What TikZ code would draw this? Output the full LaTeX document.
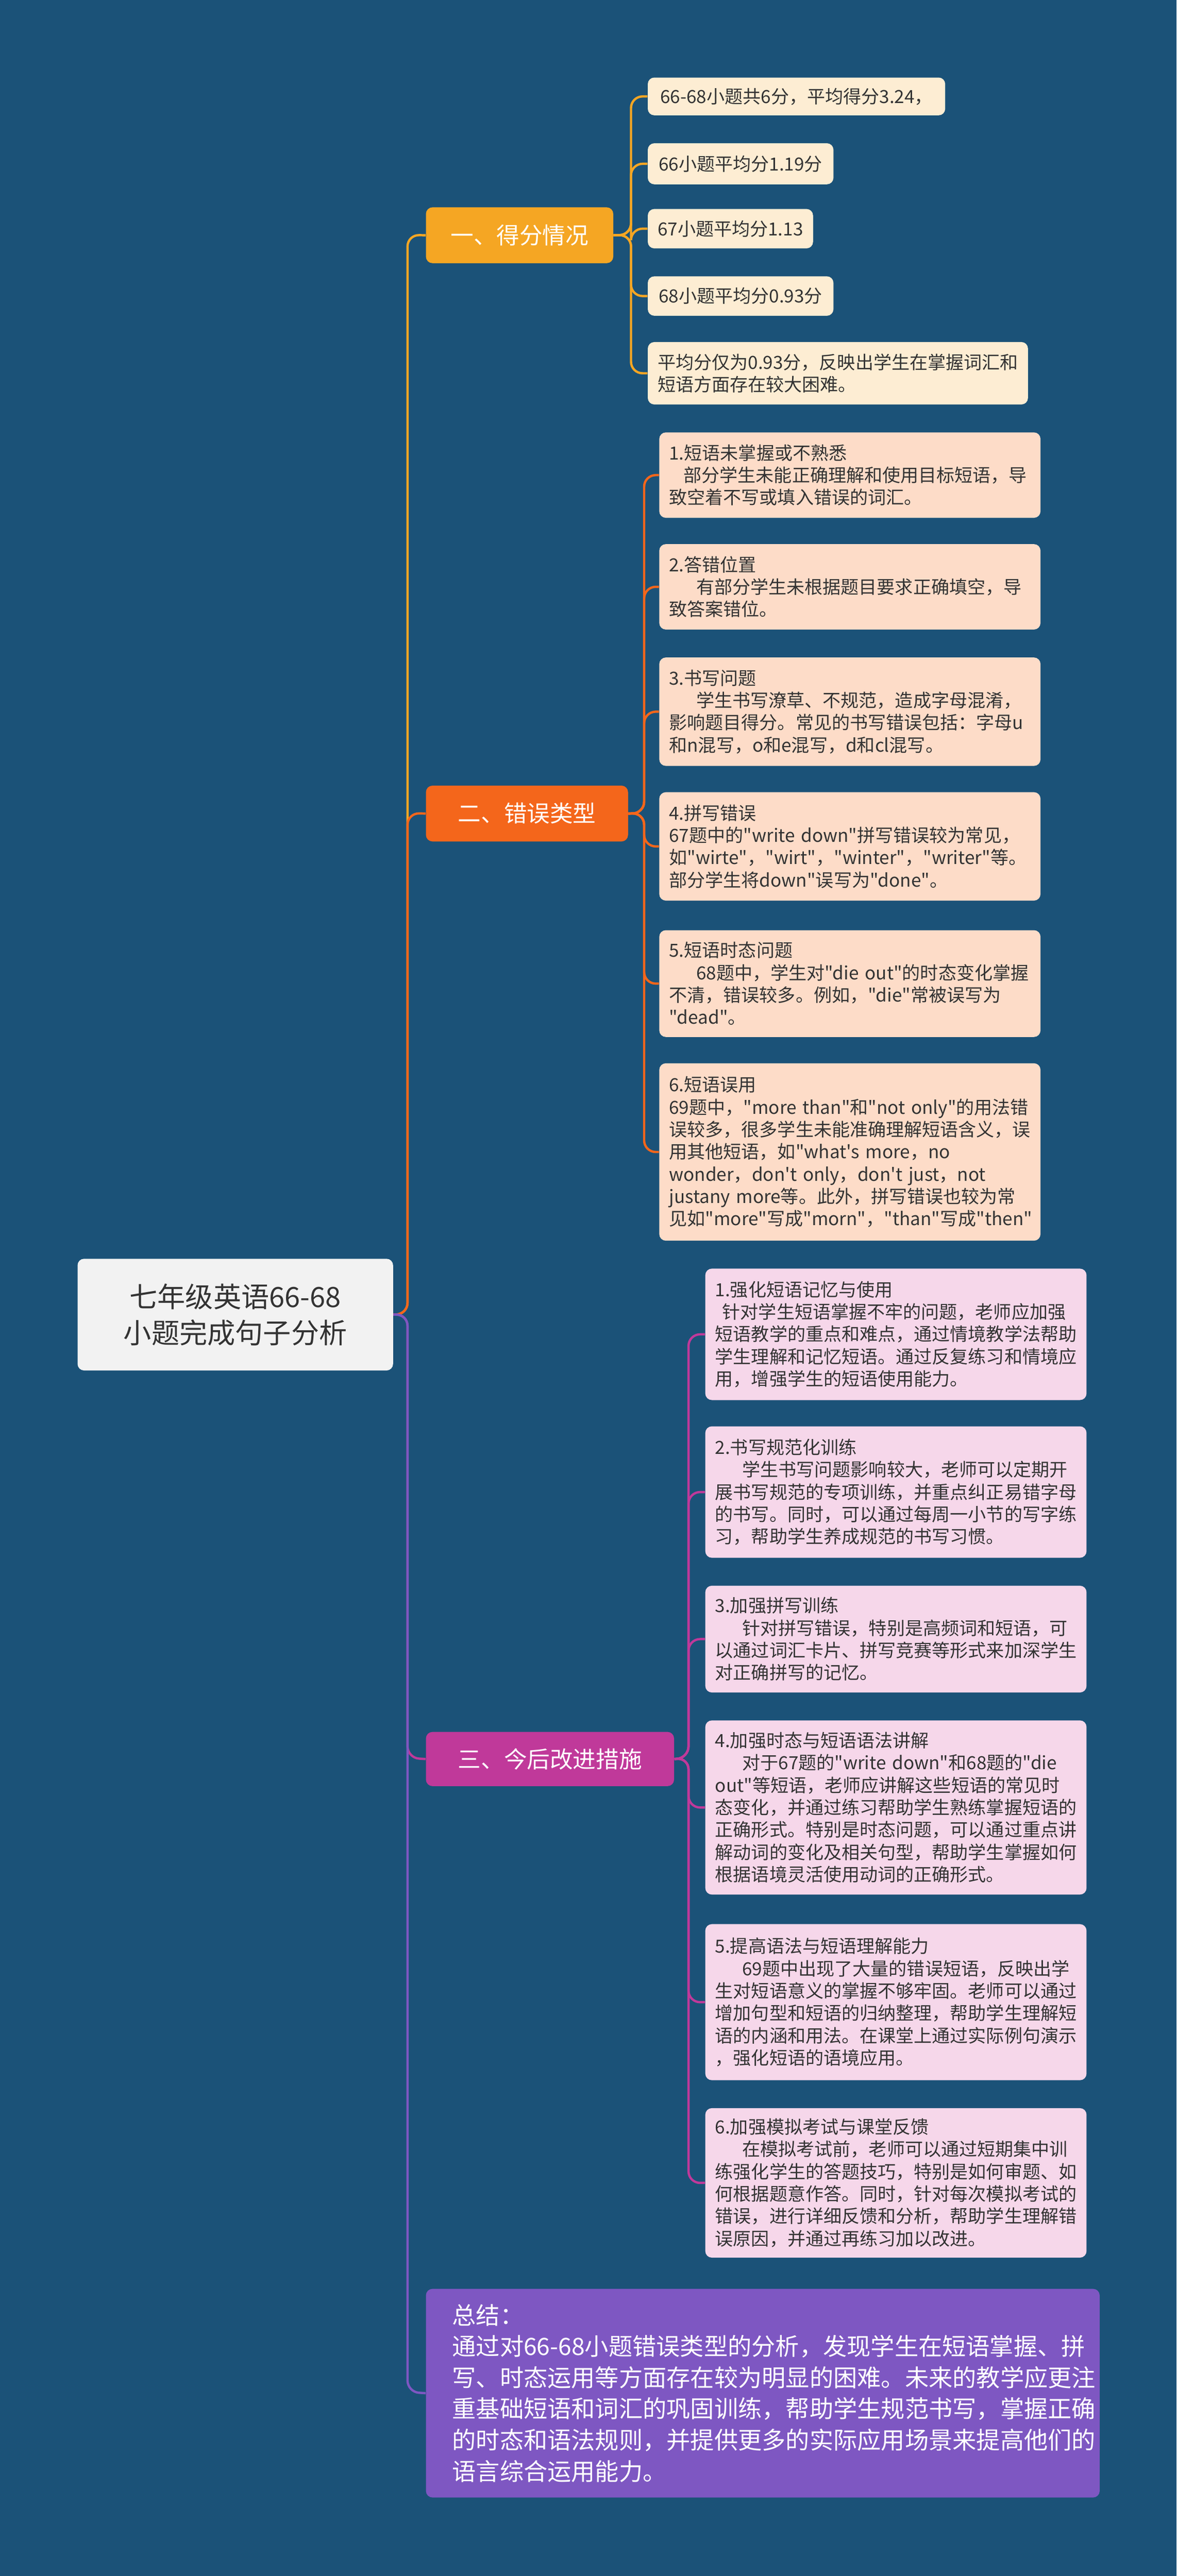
\documentclass[tikz,border=0pt]{standalone}
\usepackage{fontspec}
\newfontfamily\cjk{Noto Sans CJK SC}
\begin{document}
\begin{tikzpicture}[x=1pt,y=-1pt,
  base/.style={anchor=north west,inner xsep=6pt,inner ysep=3pt,align=left,rounded corners=4pt},
  la/.style={base,fill=cA!20,font=\cjk\fontsize{11}{13.5}\selectfont,text=black!80},
  lb/.style={base,fill=peach,font=\cjk\fontsize{11}{13.6}\selectfont,text=black!80,text width=220pt},
  lc/.style={base,fill=pinkl,font=\cjk\fontsize{11}{13.6}\selectfont,text=black!80,text width=220pt},
  br/.style={anchor=north west,rounded corners=4pt,text=white,font=\cjk\fontsize{14}{16}\selectfont,inner sep=0pt},
  ln/.style={line width=1.4pt,rounded corners=7pt}]
\definecolor{bg}{HTML}{1B5278}
\definecolor{cA}{HTML}{F5A623}
\definecolor{cB}{HTML}{F4661B}
\definecolor{cC}{HTML}{C0399A}
\definecolor{cD}{HTML}{7E57C2}
\definecolor{peach}{HTML}{FDDCC8}
\definecolor{pinkl}{HTML}{F6D7EA}
\fill[bg] (0,0) rectangle (716,1568);
\useasboundingbox (0,0) rectangle (716,1568);
% root
\node[anchor=north west,fill=black!5,rounded corners=4pt,minimum width=192pt,minimum height=68pt,align=center,font=\cjk\fontsize{17}{22}\selectfont,text=black!80,inner sep=0pt] (root) at (47,766) {七年级英语66-68\\小题完成句子分析};
% branches
\node[br,fill=cA,minimum width=114pt,minimum height=34pt] (b1) at (259,126) {一、得分情况};
\node[br,fill=cB,minimum width=123pt,minimum height=34pt] (b2) at (259,478) {二、错误类型};
\node[br,fill=cC,minimum width=151pt,minimum height=33pt] (b3) at (259,1054) {三、今后改进措施};
\node[anchor=north west,fill=cD,rounded corners=4pt,minimum width=410pt,minimum height=127pt,inner xsep=16pt,inner ysep=0pt,text=white,align=left,font=\cjk\fontsize{14.5}{19}\selectfont,text width=378pt] (sum) at (259,1393) {总结：\\通过对66-68小题错误类型的分析，发现学生在短语掌握、拼\\写、时态运用等方面存在较为明显的困难。未来的教学应更注\\重基础短语和词汇的巩固训练，帮助学生规范书写，掌握正确\\的时态和语法规则，并提供更多的实际应用场景来提高他们的\\语言综合运用能力。};
\coordinate (rv) at (248,800);
\draw[ln,cA] (root.east) -- (rv) -- (248,143) -- (b1.west);
\draw[ln,cB] (root.east) -- (rv) -- (248,495) -- (b2.west);
\draw[ln,cC] (root.east) -- (rv) -- (248,1070) -- (b3.west);
\draw[ln,cD] (root.east) -- (rv) -- (248,1456) -- (sum.west);
% group 1
\node[la,minimum width=181pt,minimum height=23pt] (a1) at (394,47) {66-68小题共6分，平均得分3.24，};
\node[la,minimum width=113pt,minimum height=25pt] (a2) at (394,87) {66小题平均分1.19分};
\node[la,minimum width=100pt,minimum height=24pt] (a3) at (394,127) {67小题平均分1.13};
\node[la,minimum width=113pt,minimum height=24pt] (a4) at (394,168) {68小题平均分0.93分};
\node[la,minimum width=231pt,minimum height=38pt] (a5) at (394,208) {平均分仅为0.93分，反映出学生在掌握词汇和\\短语方面存在较大困难。};
\foreach \n in {a1,a2,a3,a4,a5}{\draw[ln,cA] (b1.east) -- (384,143) |- (\n.west);}
% group 2
\node[lb,minimum height=52pt] (e1) at (401,263) {1.短语未掌握或不熟悉\\\hspace*{0.8em}部分学生未能正确理解和使用目标短语，导\\致空着不写或填入错误的词汇。};
\node[lb,minimum height=52pt] (e2) at (401,331) {2.答错位置\\\hspace*{1.5em}有部分学生未根据题目要求正确填空，导\\致答案错位。};
\node[lb,minimum height=66pt] (e3) at (401,400) {3.书写问题\\\hspace*{1.5em}学生书写潦草、不规范，造成字母混淆，\\影响题目得分。常见的书写错误包括：字母u\\和n混写，o和e混写，d和cl混写。};
\node[lb,minimum height=66pt] (e4) at (401,482) {4.拼写错误\\67题中的"write~down"拼写错误较为常见，\\如"wirte"，"wirt"，"winter"，"writer"等。\\部分学生将down"误写为"done"。};
\node[lb,minimum height=65pt] (e5) at (401,566) {5.短语时态问题\\\hspace*{1.5em}68题中，学生对"die~out"的时态变化掌握\\不清，错误较多。例如，"die"常被误写为\\"dead"。};
\node[lb,minimum height=108pt] (e6) at (401,647) {6.短语误用\\69题中，"more~than"和"not~only"的用法错\\误较多，很多学生未能准确理解短语含义，误\\用其他短语，如"what's~more，no\\wonder，don't~only，don't~just，not\\justany~more等。此外，拼写错误也较为常\\见如"more"写成"morn"，"than"写成"then"};
\foreach \n in {e1,e2,e3,e4,e5,e6}{\draw[ln,cB] (b2.east) -- (392,495) |- (\n.west);}
% group 3
\node[lc,minimum height=80pt] (c1) at (429,772) {1.强化短语记忆与使用\\\hspace*{0.4em}针对学生短语掌握不牢的问题，老师应加强\\短语教学的重点和难点，通过情境教学法帮助\\学生理解和记忆短语。通过反复练习和情境应\\用，增强学生的短语使用能力。};
\node[lc,minimum height=80pt] (c2) at (429,868) {2.书写规范化训练\\\hspace*{1.5em}学生书写问题影响较大，老师可以定期开\\展书写规范的专项训练，并重点纠正易错字母\\的书写。同时，可以通过每周一小节的写字练\\习，帮助学生养成规范的书写习惯。};
\node[lc,minimum height=65pt] (c3) at (429,965) {3.加强拼写训练\\\hspace*{1.5em}针对拼写错误，特别是高频词和短语，可\\以通过词汇卡片、拼写竞赛等形式来加深学生\\对正确拼写的记忆。};
\node[lc,minimum height=106pt] (c4) at (429,1047) {4.加强时态与短语语法讲解\\\hspace*{1.5em}对于67题的"write~down"和68题的"die\\out"等短语，老师应讲解这些短语的常见时\\态变化，并通过练习帮助学生熟练掌握短语的\\正确形式。特别是时态问题，可以通过重点讲\\解动词的变化及相关句型，帮助学生掌握如何\\根据语境灵活使用动词的正确形式。};
\node[lc,minimum height=95pt] (c5) at (429,1171) {5.提高语法与短语理解能力\\\hspace*{1.5em}69题中出现了大量的错误短语，反映出学\\生对短语意义的掌握不够牢固。老师可以通过\\增加句型和短语的归纳整理，帮助学生理解短\\语的内涵和用法。在课堂上通过实际例句演示\\，强化短语的语境应用。};
\node[lc,minimum height=91pt] (c6) at (429,1283) {6.加强模拟考试与课堂反馈\\\hspace*{1.5em}在模拟考试前，老师可以通过短期集中训\\练强化学生的答题技巧，特别是如何审题、如\\何根据题意作答。同时，针对每次模拟考试的\\错误，进行详细反馈和分析，帮助学生理解错\\误原因，并通过再练习加以改进。};
\foreach \n in {c1,c2,c3,c4,c5,c6}{\draw[ln,cC] (b3.east) -- (419,1070) |- (\n.west);}
\end{tikzpicture}
\end{document}
